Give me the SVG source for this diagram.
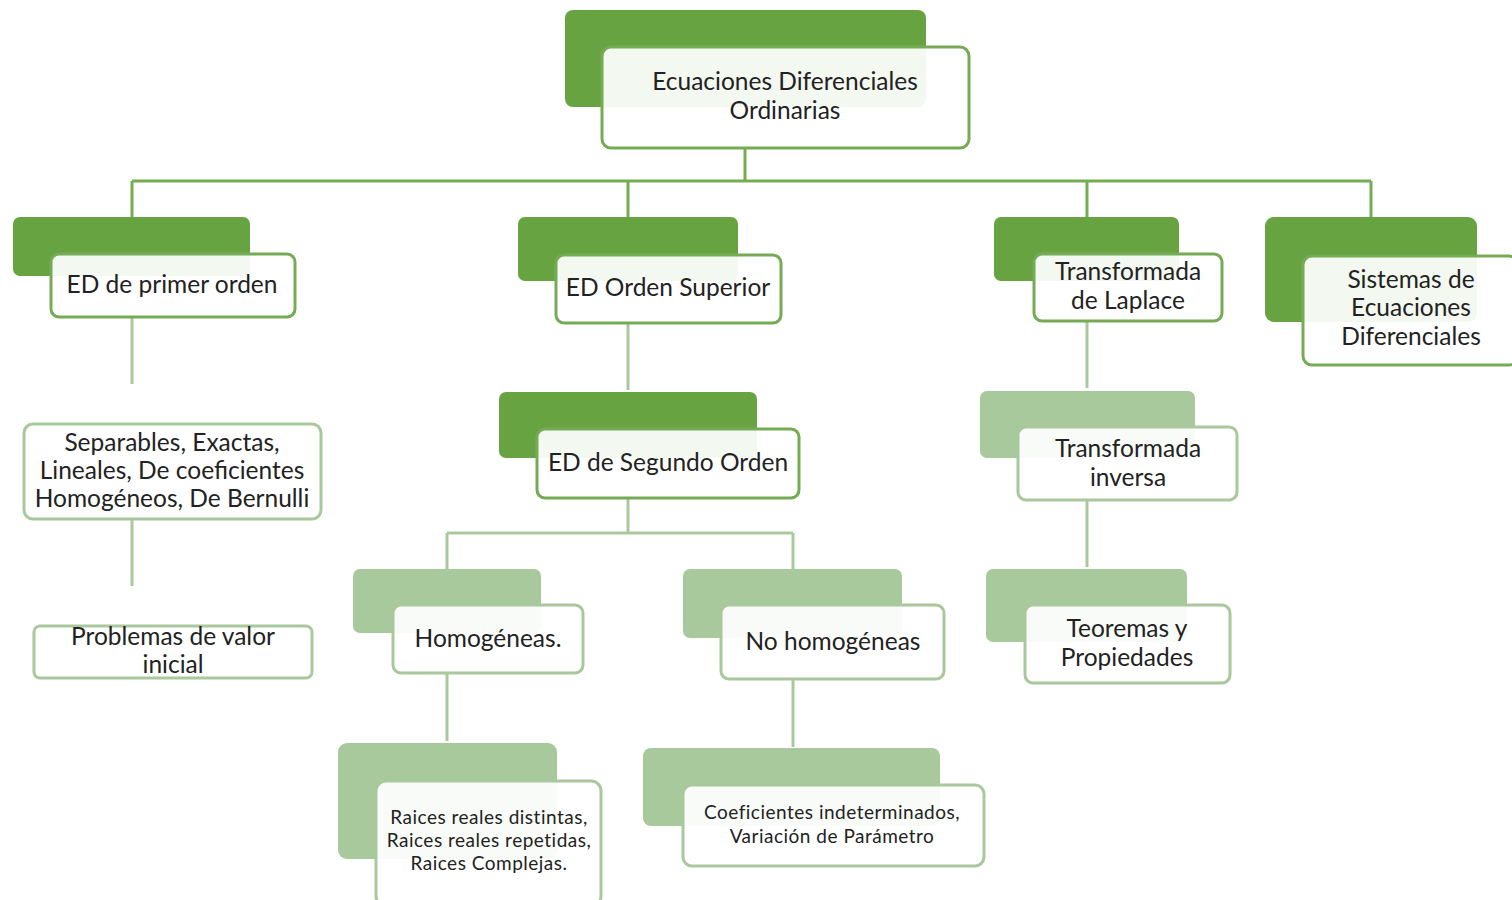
<svg xmlns="http://www.w3.org/2000/svg" width="1512" height="900" viewBox="0 0 1512 900">
<style>
.bgd{fill:#67a441;}
.bgl{fill:#a8c99b;}
.frd{fill:#ffffff;fill-opacity:0.92;stroke:#75ab55;stroke-width:3;}
.frl{fill:#ffffff;fill-opacity:0.92;stroke:#a9c89c;stroke-width:3;}
.t{font-family:Lato,"Open Sans","Liberation Sans",sans-serif;font-size:24.5px;fill:#222222;text-anchor:middle;}
.s{font-family:Lato,"Open Sans","Liberation Sans",sans-serif;font-size:19px;letter-spacing:0.5px;fill:#222222;text-anchor:middle;}
.cd{stroke:#74ad52;stroke-width:3;fill:none;}
.cl{stroke:#a9c99c;stroke-width:3;fill:none;}
</style>
<rect width="1512" height="900" fill="#ffffff"/>
<g id="connectors">
<path class="cd" d="M745 148V181M132 181H1371M132 181V217M628 181V217M1087 181V217M1371 181V217"/>
<path class="cl" d="M132 317V384M132 519V586"/>
<path class="cl" d="M628 323V390"/>
<path class="cl" d="M628 498V533M447 533H793M447 533V570M793 533V570"/>
<path class="cl" d="M447 673V741M793 679V747"/>
<path class="cl" d="M1087 321V388M1087 500V567"/>
</g>
<g id="n-root">
<rect class="bgd" x="565" y="10" width="361" height="97" rx="8"/>
<rect class="frd" x="602" y="47" width="367" height="101" rx="9"/>
<text class="t" x="785" y="90">Ecuaciones Diferenciales</text>
<text class="t" x="785" y="119">Ordinarias</text>
</g>
<g id="n-primer">
<rect class="bgd" x="13" y="217" width="237" height="59" rx="7"/>
<rect class="frd" x="51" y="254" width="244" height="63" rx="8"/>
<text class="t" x="172" y="293">ED de primer orden</text>
</g>
<g id="n-separables">
<rect class="frl" x="24" y="424" width="297" height="95" rx="9"/>
<text class="t" x="172" y="451">Separables, Exactas,</text>
<text class="t" x="172" y="479">Lineales, De  coeficientes</text>
<text class="t" x="172" y="507">Homogéneos, De Bernulli</text>
</g>
<g id="n-problemas">
<rect class="frl" x="34" y="626" width="278" height="52" rx="6"/>
<text class="t" x="173" y="645">Problemas de valor</text>
<text class="t" x="173" y="673">inicial</text>
</g>
<g id="n-superior">
<rect class="bgd" x="518" y="217" width="220" height="64" rx="7"/>
<rect class="frd" x="556" y="255" width="225" height="68" rx="8"/>
<text class="t" x="668" y="296">ED Orden Superior</text>
</g>
<g id="n-segundo">
<rect class="bgd" x="499" y="392" width="258" height="66" rx="7"/>
<rect class="frd" x="537" y="429" width="262" height="69" rx="8"/>
<text class="t" x="668" y="471">ED de Segundo Orden</text>
</g>
<g id="n-homogeneas">
<rect class="bgl" x="353" y="569" width="188" height="64" rx="7"/>
<rect class="frl" x="393" y="605" width="190" height="68" rx="8"/>
<text class="t" x="488" y="647">Homogéneas.</text>
</g>
<g id="n-nohomogeneas">
<rect class="bgl" x="683" y="569" width="219" height="69" rx="7"/>
<rect class="frl" x="721" y="605" width="223" height="74" rx="8"/>
<text class="t" x="833" y="650">No homogéneas</text>
</g>
<g id="n-raices">
<rect class="bgl" x="338" y="743" width="219" height="116" rx="9"/>
<rect class="frl" x="376" y="781" width="225" height="125" rx="10"/>
<text class="s" x="489" y="824">Raices reales distintas,</text>
<text class="s" x="489" y="847">Raices reales repetidas,</text>
<text class="s" x="489" y="870">Raices Complejas.</text>
</g>
<g id="n-coeficientes">
<rect class="bgl" x="643" y="748" width="297" height="78" rx="8"/>
<rect class="frl" x="683" y="785" width="301" height="81" rx="9"/>
<text class="s" x="832" y="819">Coeficientes indeterminados,</text>
<text class="s" x="832" y="843">Variación de Parámetro</text>
</g>
<g id="n-laplace">
<rect class="bgd" x="994" y="217" width="185" height="64" rx="7"/>
<rect class="frd" x="1034" y="254" width="188" height="67" rx="8"/>
<text class="t" x="1128" y="280">Transformada</text>
<text class="t" x="1128" y="309">de Laplace</text>
</g>
<g id="n-inversa">
<rect class="bgl" x="980" y="391" width="215" height="67" rx="7"/>
<rect class="frl" x="1018" y="427" width="219" height="73" rx="8"/>
<text class="t" x="1128" y="457">Transformada</text>
<text class="t" x="1128" y="486">inversa</text>
</g>
<g id="n-teoremas">
<rect class="bgl" x="986" y="569" width="201" height="73" rx="7"/>
<rect class="frl" x="1025" y="605" width="205" height="78" rx="8"/>
<text class="t" x="1127" y="637">Teoremas y</text>
<text class="t" x="1127" y="666">Propiedades</text>
</g>
<g id="n-sistemas">
<rect class="bgd" x="1265" y="217" width="212" height="105" rx="9"/>
<rect class="frd" x="1303" y="256" width="215" height="109" rx="9"/>
<text class="t" x="1411" y="288">Sistemas de</text>
<text class="t" x="1411" y="316">Ecuaciones</text>
<text class="t" x="1411" y="345">Diferenciales</text>
</g>
</svg>
